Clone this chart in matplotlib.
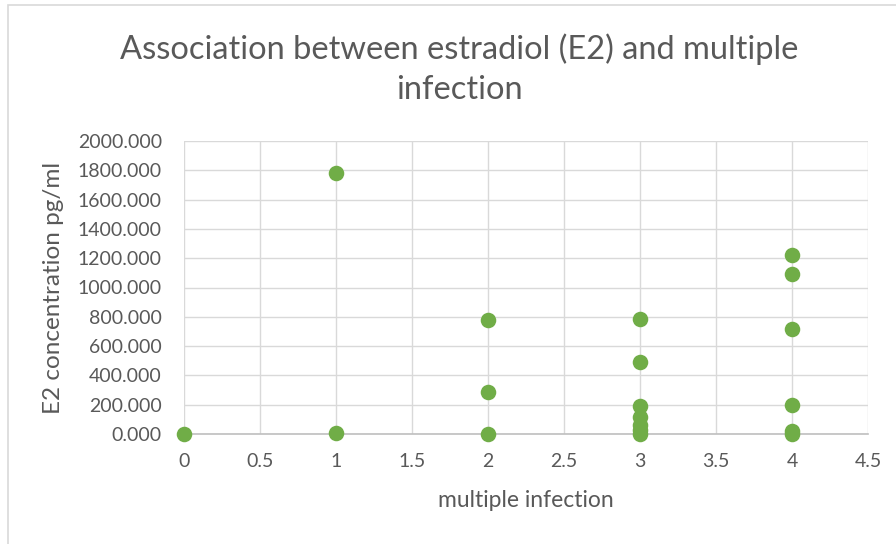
import matplotlib
matplotlib.use("Agg")
import matplotlib.pyplot as plt
from matplotlib.patches import Rectangle

# ── Data ───────────────────────────────────────────────────────────────────────
infection = [0, 1, 1, 2, 2, 2, 3, 3, 3, 3, 3, 3, 3, 4, 4, 4, 4, 4, 4]
e2_conc = [0, 1780, 5, 775, 285, 3, 785, 490, 193, 118, 60, 30, 0,
           1225, 1095, 715, 198, 20, 0]

x_ticks = [0, 0.5, 1, 1.5, 2, 2.5, 3, 3.5, 4, 4.5]
y_ticks = list(range(0, 2001, 200))

TXT = "#595959"
GRID = "#d9d9d9"
GREEN = "#70ad47"

plt.rcParams["font.family"] = ["Lato", "DejaVu Sans"]

fig = plt.figure(figsize=(8.96, 5.44), dpi=100)
fig.patches.append(Rectangle((8 / 896, -0.1), 1.2, 1.1 - 5 / 544,
                             transform=fig.transFigure, fill=False,
                             edgecolor="#d9d9d9", lw=1.2))
ax = fig.add_axes([184 / 896, 1 - 434 / 544, (868 - 184) / 896, (434 - 141) / 544])

ax.scatter(infection, e2_conc, s=125, color=GREEN, zorder=3, clip_on=False,
           linewidths=0)

ax.set_xlim(0, 4.5)
ax.set_ylim(0, 2000)
ax.set_xticks(x_ticks)
ax.set_xticklabels([f"{t:g}" for t in x_ticks])
ax.set_yticks(y_ticks)
ax.set_yticklabels([f"{t:.3f}" for t in y_ticks])
ax.grid(True, color=GRID, lw=1)
ax.set_axisbelow(True)
for s in ["top", "right", "left"]:
    ax.spines[s].set_visible(False)
ax.spines["bottom"].set_color("#bfbfbf")
ax.spines["bottom"].set_linewidth(1.2)
ax.tick_params(length=0, colors=TXT, labelsize=14)
ax.tick_params(axis="y", pad=16)
ax.tick_params(axis="x", pad=14)

ax.set_xlabel("multiple infection", color=TXT, fontsize=16.5, labelpad=14)
ax.set_ylabel("E2 concentration pg/ml", color=TXT, fontsize=17.5, labelpad=10)
fig.text(0.513, 1 - 69 / 544, "Association between estradiol (E2) and multiple\ninfection",
         ha="center", va="center", fontsize=23.5, color=TXT, linespacing=1.42)

fig.savefig("out.png", dpi=100)
